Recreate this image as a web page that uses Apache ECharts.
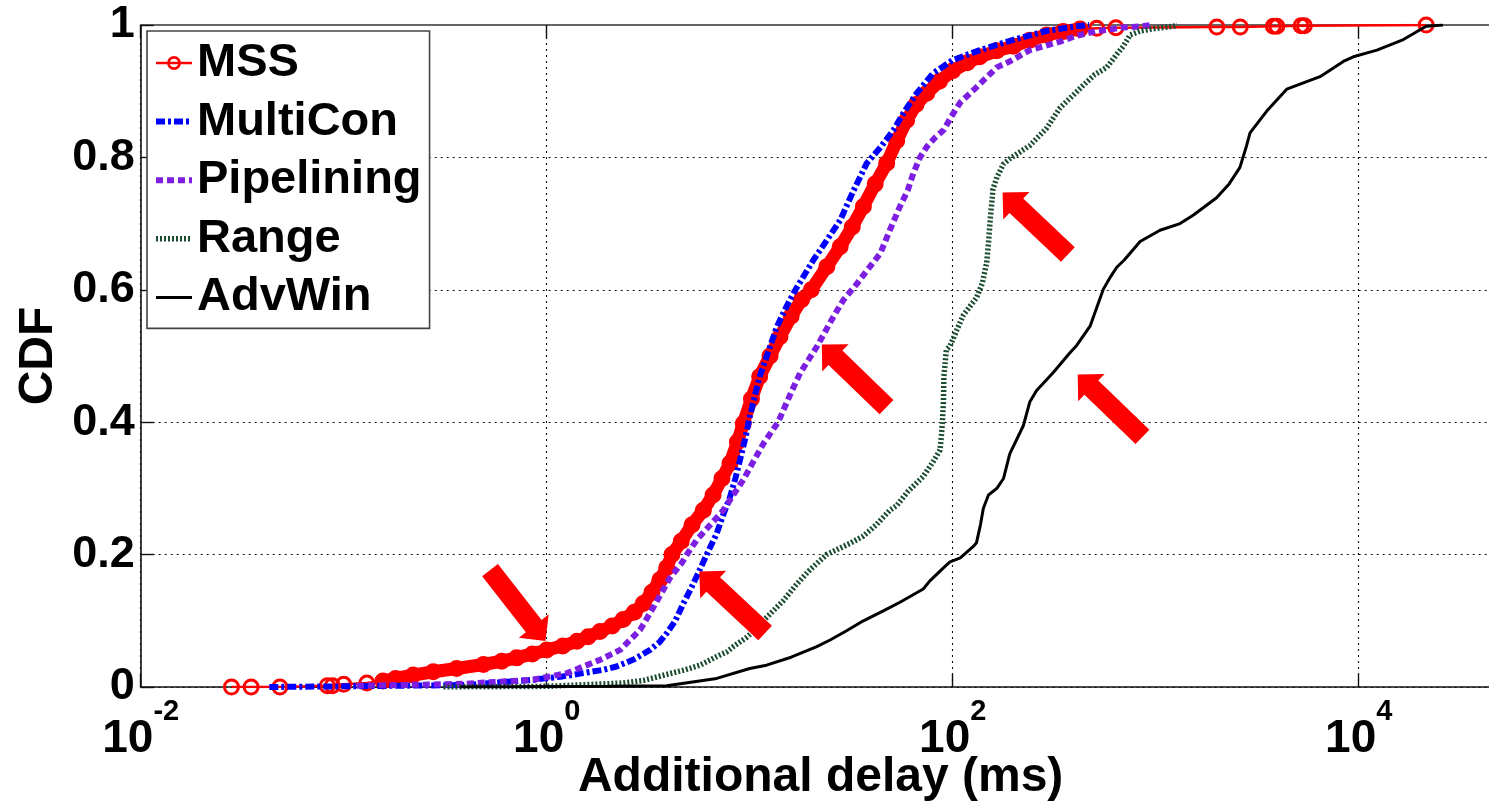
<!DOCTYPE html>
<html><head><meta charset="utf-8">
<script src="https://cdn.jsdelivr.net/npm/echarts/dist/echarts.min.js"></script>
<style>html,body{margin:0;padding:0;background:#fff}#c{width:1489px;height:807px}</style>
</head><body><div id="c"></div>
<script>
const seriesNames = ['MSS', 'MultiCon', 'Pipelining', 'Range', 'AdvWin'];

const mssX = [0.028,0.035,0.0485,0.083,0.088,0.10,0.13,0.156,0.18,0.22,0.276,0.36,0.488,0.6,0.711,0.85,1.0,1.2,1.41,1.6,1.83,2.1,2.38,2.7,2.99,3.3,3.61,3.9,4.14,4.6,5.2,5.91,6.6,7.3,8.0,8.7,9.3,10.2,11.2,12.6,14.1,16,18,20.1,24,27.9,32,36.3,41.5,47.3,53,59.3,66,74.5,86,100,118,136,165,199,240,290,350,424,512,637,2000,2610,3800,3950,5200,5400,21500];
const mssY = [0,0,0,0.002,0.002,0.004,0.006,0.009,0.013,0.018,0.023,0.028,0.034,0.039,0.044,0.05,0.056,0.062,0.069,0.076,0.084,0.092,0.102,0.113,0.126,0.143,0.162,0.18,0.2,0.22,0.245,0.267,0.29,0.315,0.338,0.37,0.398,0.435,0.469,0.5,0.529,0.56,0.585,0.6,0.635,0.665,0.695,0.726,0.76,0.791,0.825,0.856,0.88,0.897,0.915,0.931,0.943,0.952,0.961,0.968,0.977,0.985,0.99,0.994,0.995,0.996,0.997,0.997,0.998,0.998,0.999,0.999,1];

const multiConX = [0.043,0.1,0.2,0.4,0.86,1.2,1.51,1.9,2.21,2.7,3.23,3.6,3.9,4.3,4.71,5.1,5.48,6.14,6.88,7.4,8.0,8.5,8.96,9.5,10.0,10.6,11.2,12.3,13.6,15.2,16.8,20.6,24,27.9,32.5,37.7,44,51,58,66.5,80,100,136,200,290,408,470];
const multiConY = [0,0.001,0.002,0.003,0.011,0.016,0.021,0.026,0.031,0.042,0.056,0.068,0.081,0.1,0.126,0.147,0.167,0.2,0.232,0.26,0.287,0.315,0.343,0.375,0.408,0.44,0.469,0.505,0.544,0.575,0.6,0.645,0.675,0.705,0.75,0.791,0.815,0.841,0.87,0.897,0.927,0.947,0.962,0.978,0.991,0.998,1];

const pipeX = [0.116,0.2,0.4,0.86,1.26,1.83,2.3,2.88,3.35,4.05,4.62,4.9,5.48,6.4,7.41,8.3,9.3,10.4,11.7,13.8,16,17.7,21.4,25.8,29,33.7,38,44,49,55,60,64,69,74.5,82,90,100,109,130,165,191,240,338,400,512,596,667,850,940];
const pipeY = [0.002,0.003,0.005,0.011,0.021,0.041,0.056,0.086,0.12,0.165,0.187,0.2,0.222,0.245,0.267,0.29,0.313,0.34,0.368,0.4,0.445,0.474,0.514,0.559,0.585,0.609,0.63,0.655,0.69,0.726,0.75,0.776,0.8,0.816,0.83,0.841,0.865,0.883,0.905,0.936,0.945,0.962,0.975,0.983,0.991,0.993,0.996,0.998,1];

const rangeX = [0.31,1,2.38,3.0,3.9,4.8,5.69,6.88,7.7,8.3,9.66,10.5,12.1,14.6,17,19.8,23.9,31.2,36.3,42,49,53,60,71.6,80,86.6,88,89,90,90.5,93,97,105,113,131,140,147,150,153,158,165,178,191,240,290,338,380,440,500,574,640,693,748,838,1000,1222,1280];
const rangeY = [0,0.001,0.006,0.01,0.019,0.026,0.033,0.046,0.053,0.061,0.075,0.085,0.105,0.13,0.155,0.177,0.2,0.217,0.228,0.245,0.267,0.274,0.295,0.318,0.34,0.358,0.38,0.4,0.43,0.469,0.509,0.515,0.54,0.562,0.588,0.61,0.641,0.67,0.706,0.752,0.77,0.79,0.798,0.818,0.844,0.875,0.89,0.909,0.925,0.936,0.955,0.968,0.985,0.991,0.995,0.998,1];

const advX = [0.375,2,3.9,6.88,10,12.1,16,21.4,24.9,30,36.3,45.5,55,71.6,77,90,97,109,126,131,137,141.6,150,165,178,191,223,240,259,290,313,378,408,475,552,600,643,700,838,1050,1318,1535,1995,2300,2600,2805,2915,3525,4420,5500,6450,8400,9410,12300,16600,21500,26000];
const advY = [0,0.001,0.002,0.013,0.028,0.033,0.045,0.061,0.071,0.085,0.1,0.115,0.128,0.148,0.16,0.18,0.189,0.195,0.212,0.218,0.245,0.27,0.29,0.3,0.315,0.352,0.395,0.431,0.448,0.464,0.475,0.505,0.516,0.545,0.601,0.62,0.634,0.645,0.673,0.69,0.7,0.713,0.739,0.76,0.785,0.818,0.837,0.87,0.903,0.914,0.922,0.945,0.952,0.962,0.978,0.998,1];

// annotation arrows (centre of each arrow in data units, direction in degrees)
const arrowX = [0.72, 8.2, 32.7, 255, 596];
const arrowY = [0.123, 0.128, 0.47, 0.70, 0.425];
const arrowAngle = [218, 47, 46, 46.5, 46];

const xMin = 0.01, xMax = 50000;
const yTicks = [0, 0.2, 0.4, 0.6, 0.8, 1];

const FONT = '"Liberation Sans", Arial, sans-serif';
const zip = (xs, ys) => xs.map((x, i) => [x, ys[i]]);
const mssData = zip(mssX, mssY);
const mssBand = mssData.filter(p => p[1] >= 0.009 && p[1] <= 0.994);

const colors = {MSS: '#ff0000', MultiCon: '#0000ff', Pipelining: '#7d1ee3', Range: '#1b4d31', AdvWin: '#000000'};
const lineStyles = {
  MSS: {width: 2.5, type: 'solid'},
  MultiCon: {width: 6, type: [9, 3, 3, 3]},
  Pipelining: {width: 6, type: [7, 4]},
  Range: {width: 5.5, type: [2, 2]},
  AdvWin: {width: 3, type: 'solid'}
};

const logMin = Math.log10(xMin), logMax = Math.log10(xMax);
const plotLeft = 140.7, decade = 203;

const chart = echarts.init(document.getElementById('c'), null, {renderer: 'canvas'});

const gridLine = {show: true, lineStyle: {color: '#111', width: 1.1, type: [2, 4]}};

const option = {
  animation: false,
  backgroundColor: '#fff',
  grid: {left: plotLeft, top: 25, width: (logMax - logMin) * decade, height: 662, containLabel: false, outerBoundsMode: 'none'},
  legend: {
    orient: 'vertical', left: 147, top: 31,
    padding: [7, 8, 6, 6],
    itemWidth: 36, itemHeight: 14, itemGap: 8.6,
    borderColor: '#444', borderWidth: 1.6, backgroundColor: '#fff',
    textStyle: {fontFamily: FONT, fontSize: 47, fontWeight: 'bold', color: '#000', lineHeight: 50},
    data: seriesNames.map(n => (n === 'MSS'
      ? {name: n, itemStyle: {color: 'rgba(255,0,0,0)', borderColor: colors.MSS, borderWidth: 2.6}, lineStyle: {width: 2.5, color: colors.MSS}}
      : {name: n, itemStyle: {opacity: 0, color: 'rgba(0,0,0,0)', borderWidth: 0}, lineStyle: {width: lineStyles[n].width, type: lineStyles[n].type, color: colors[n], opacity: 1}}))
  },
  xAxis: [
    {
      type: 'log', min: xMin, max: xMax, logBase: 10, position: 'bottom',
      axisLine: {show: false}, axisTick: {show: false}, axisLabel: {show: false}, splitLine: {show: false}
    },
    {
      type: 'value', min: logMin, max: logMax, interval: 2, position: 'bottom',
      axisLine: {show: true, onZero: false, lineStyle: {color: '#111', width: 1.6}},
      axisTick: {show: true, inside: true, length: 13, lineStyle: {color: '#111', width: 1.4}},
      splitLine: gridLine,
      axisLabel: {
        show: true, margin: 10, showMaxLabel: false,
        formatter: v => (Math.abs(v - Math.round(v)) < 1e-6 ? '{b|10}{s|' + Math.round(v) + '}' : ''),
        rich: {
          b: {fontFamily: FONT, fontSize: 46, fontWeight: 'bold', color: '#000', lineHeight: 84},
          s: {fontFamily: FONT, fontSize: 29, fontWeight: 'bold', color: '#000', lineHeight: 30, verticalAlign: 'top'}
        }
      },
      name: 'Additional delay (ms)', nameLocation: 'middle', nameGap: 67, nameMoveOverlap: false,
      nameTextStyle: {fontFamily: FONT, fontSize: 48, fontWeight: 'bold', color: '#000'}
    },
    {
      type: 'value', min: logMin, max: logMax, interval: 2, position: 'top',
      axisLine: {show: true, onZero: false, lineStyle: {color: '#666', width: 1.8}},
      axisTick: {show: true, inside: true, length: 13, lineStyle: {color: '#111', width: 1.4}},
      axisLabel: {show: false}, splitLine: {show: false}
    }
  ],
  yAxis: {
    type: 'value', min: yTicks[0], max: yTicks[yTicks.length - 1], interval: 0.2,
    axisLine: {show: true, onZero: false, lineStyle: {color: '#111', width: 1.6}},
    axisTick: {show: true, inside: true, length: 13, lineStyle: {color: '#111', width: 1.4}},
    splitLine: gridLine,
    axisLabel: {
      margin: 6, fontFamily: FONT, fontSize: 45, fontWeight: 'bold', color: '#000',
      formatter: v => (v === 0 || v === 1 ? String(v) : v.toFixed(1))
    },
    name: 'CDF', nameLocation: 'middle', nameGap: 78, nameMoveOverlap: false,
    nameTextStyle: {fontFamily: FONT, fontSize: 48, fontWeight: 'bold', color: '#000'}
  },
  series: [
    {
      name: 'MSS-band', type: 'line', xAxisIndex: 0, data: mssBand, showSymbol: false, symbol: 'none',
      lineStyle: {color: colors.MSS, width: 13, join: 'round', cap: 'round'}, silent: true, z: 2
    },
    {
      name: 'MSS', type: 'line', xAxisIndex: 0, data: mssData,
      color: colors.MSS,
      symbol: 'circle', symbolSize: 14, showSymbol: true,
      itemStyle: {color: 'rgba(255,0,0,0)', borderColor: colors.MSS, borderWidth: 3},
      lineStyle: {color: colors.MSS, width: lineStyles.MSS.width, type: lineStyles.MSS.type}, z: 2
    },
    ...['MultiCon', 'Pipelining', 'Range', 'AdvWin'].map((n, i) => ({
      name: n, type: 'line', xAxisIndex: 0, color: colors[n],
      data: [zip(multiConX, multiConY), zip(pipeX, pipeY), zip(rangeX, rangeY), zip(advX, advY)][i],
      symbol: 'none', showSymbol: false,
      lineStyle: {color: colors[n], width: lineStyles[n].width, type: lineStyles[n].type, cap: 'butt'}, z: 3 + i
    })),
    {
      name: 'arrows', type: 'scatter', xAxisIndex: 0, silent: true, z: 10,
      symbol: 'path://M19,0L38,19L29,19L29,90L9,90L9,19L0,19Z',
      symbolSize: [38, 90], symbolKeepAspect: false,
      itemStyle: {color: '#ff0000', opacity: 1},
      data: arrowX.map((x, i) => ({value: [x, arrowY[i]], symbolRotate: arrowAngle[i]}))
    }
  ]
};
chart.setOption(option);
</script>
</body></html>
